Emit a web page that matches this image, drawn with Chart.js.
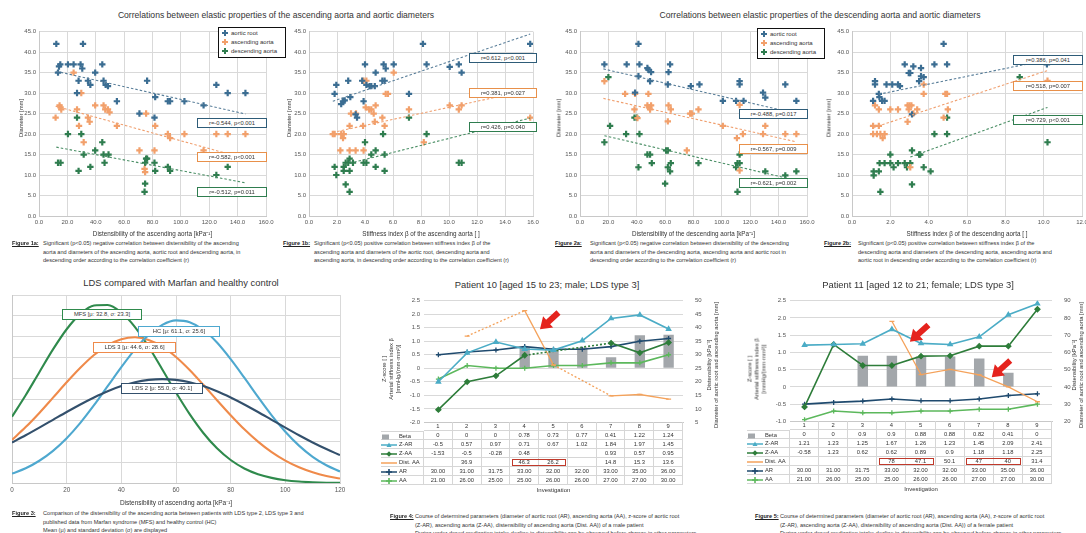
<!DOCTYPE html>
<html>
<head>
<meta charset="utf-8">
<title>Aortic elasticity in LDS</title>
<script src="https://cdn.jsdelivr.net/npm/chart.js@4.4.1/dist/chart.umd.min.js"></script>
<style>
  html, body { margin:0; padding:0; background:#fff; }
  #page { position:relative; width:1086px; height:533px; overflow:hidden; font-family:"Liberation Sans", Arial, sans-serif; color:#262626; }
  #page canvas { position:absolute; }
  .abs { position:absolute; white-space:nowrap; }
  .title { font-size:8.6px; transform:translateX(-50%); color:#333; }
  .btitle { font-size:9.4px; transform:translateX(-50%); color:#333; }
  .vt { position:absolute; transform:translate(-50%,-50%) rotate(-90deg); white-space:nowrap; text-align:center; font-size:5.8px; line-height:7px; color:#333; }
  .cap { position:absolute; font-size:5.6px; line-height:8.6px; white-space:nowrap; color:#333; }
  .capl { position:absolute; font-size:5.6px; line-height:8.6px; font-weight:bold; text-decoration:underline; white-space:nowrap; color:#222; }
  .rbox { position:absolute; background:#fff; font-size:5.8px; line-height:7px; text-align:center; box-sizing:border-box; white-space:nowrap; color:#333; }
  .legend { position:absolute; background:#fff; border:1.5px solid #111; box-sizing:border-box; font-size:6px; padding:1px 0 0 3px; line-height:9px; color:#333; }
  .legend svg { vertical-align:middle; margin-right:3px; }
  .cell { position:absolute; box-sizing:border-box; font-size:5.8px; line-height:8px; text-align:center; white-space:nowrap; color:#333; border-right:1px solid #d6d6d6; border-bottom:1px solid #d6d6d6; }
  .cell.lab { text-align:left; }
  .cell svg { vertical-align:middle; margin-right:2px; }
  .redbox { position:absolute; box-sizing:border-box; border:1.3px solid #c0392b; }
</style>
</head>
<body>
<div id="page"></div>
<script>
// ---------- Correlation scatter data: [x, y] pairs, diameters in mm ----------
// Distensibility of the ascending aorta vs diameters
const ascDistRoot = [[12.2,42],[31,42],[14.1,36.5],[15,37],[20.4,37],[24.4,37],[29.3,37],[30.5,36],[13.4,35],[27.9,33],[34.5,33],[36.2,32],[39.6,35],[44.6,37],[45.5,33],[47,32],[48.6,31.7],[26.8,30],[54.9,28],[70.8,25],[76.2,33],[81.4,24],[81.9,29],[90.8,28],[92.4,28],[102.5,28],[116,27],[125,32],[133,30],[145.5,30]];
const ascDistAsc = [[24.4,35],[14.5,27],[15.2,26.5],[15.7,26],[11.7,24],[26.8,26],[29.8,30],[28.2,22],[34.5,24],[35.7,23],[31.5,18],[39.6,27],[45.5,27],[46.7,26],[48.6,26],[49.7,25.3],[54.9,22],[70.8,16],[75.5,25],[81.4,16],[81.9,22],[74.4,11.5],[74.8,10.7],[90.8,20],[92.4,19],[102.5,20],[116,16],[125,20],[133,20],[145.5,20]];
const ascDistDesc = [[26.8,24],[20.4,20],[29.8,20],[13.4,13],[15.2,13],[31.5,15],[27.9,11],[36.2,12],[39.6,16],[44.6,18],[45.5,15],[49,15],[46.2,13],[74.8,7.9],[74.4,5.9],[76.2,14],[74.8,13],[81.4,13],[81.9,11],[90.8,12],[92.4,11],[125,10],[133,12],[75.5,14]];
const ascDistTrendRoot = [[12.2,35.3],[145.5,24.9]];
const ascDistTrendAsc = [[11.7,26.8],[145.5,14.0]];
const ascDistTrendDesc = [[12.2,16.8],[145.5,8.1]];

// Stiffness index beta of the ascending aorta vs diameters
const ascBetaRoot = [[1.83,29.8],[1.95,32],[2.3,27.3],[2.43,28],[2.55,28.2],[2.8,33],[2.95,29],[3.33,24.8],[3.43,24],[3.9,28],[3.8,33],[4.0,37],[4.1,32],[4.33,31.7],[4.45,31.7],[4.7,31.7],[4.76,35],[5.33,37],[5.48,36],[5.24,33],[5.4,33],[6.05,37],[7.14,29.8],[8.14,42],[8.4,37],[10.05,36.4],[10.7,37],[10.9,35],[15.8,42]];
const ascBetaAsc = [[1.7,20],[1.83,20],[2.3,20],[2.43,19],[2.48,20],[2.24,16],[2.9,16],[3.33,16],[3.9,16],[3.0,25],[3.36,25],[2.9,22],[3.86,22],[4.05,26.5],[4.3,26],[4.45,26],[4.62,25],[4.76,27],[4.7,23],[3.9,33],[4.1,33],[5.24,24],[5.4,22],[5.48,29.8],[5.64,29.8],[6.05,35],[7.14,26],[8.2,18],[10.05,27],[10.7,26],[10.9,27],[15.8,24]];
const ascBetaDesc = [[1.83,12],[1.95,10],[2.48,12],[2.62,13],[2.8,13],[2.9,14],[2.9,11],[2.62,7.7],[2.9,5.9],[2.48,11],[4.0,18],[3.9,13],[4.1,13],[4.45,15],[4.76,16],[4.76,12],[5.4,11],[5.4,15],[5.29,20],[7.14,24],[8.4,20],[10.7,13],[10.9,13],[3.14,13]];
const ascBetaTrendRoot = [[1.7,28],[15.8,44.4]];
const ascBetaTrendAsc = [[1.7,20.4],[15.8,30.8]];
const ascBetaTrendDesc = [[2.6,12.6],[15.8,23.9]];

// Distensibility of the descending aorta vs diameters
const descDistRoot = [[17.2,37],[32.9,37],[41.2,42],[41.9,37],[41.2,34.1],[47.5,36.1],[48.2,35.7],[50.1,35.1],[49.4,32.9],[62.4,35.1],[63.5,37],[61.9,32.1],[78.1,31.7],[84.2,32.1],[100.7,28.1],[110,28.1],[112.5,32.9],[112.5,32.1],[115.3,28.1],[129,30.1],[130.6,28.9],[144.7,32.1],[152.5,28.1],[38.8,30.1]];
const descDistAsc = [[17.2,32.9],[31.8,29.8],[38.8,29.8],[38.4,26],[40.5,23.9],[47.5,27],[48.9,26.5],[50.1,27],[48.2,29.8],[49.4,26],[62.4,27],[64,26],[61.9,23.1],[83.5,26],[77.6,25],[78.8,25],[75.3,16],[100.7,22],[110.6,19],[114.8,20],[112.5,27.1],[130.6,22],[129,20],[144.7,20],[152.5,20],[112.5,11.1]];
const descDistDesc = [[20,33.9],[17.2,18],[21.2,22],[32.5,20],[38.4,24],[40,24],[41.9,20],[41.2,11.9],[47.5,15],[49.4,15],[50.6,12.9],[60,7.9],[60.7,16],[61.9,16],[61.9,11.9],[63.5,10.9],[64,12.9],[83.5,12.9],[110,11.9],[111,12.9],[112.5,12.9],[112.5,15],[111,5.9],[130.6,10.9],[144.7,9.9],[152.5,10.9]];
const descDistTrendRoot = [[16.5,35.9],[152.5,25.0]];
const descDistTrendAsc = [[16.5,28.7],[152.5,18.1]];
const descDistTrendDesc = [[17.2,19.6],[152.5,8.7]];

// Stiffness index beta of the descending aorta vs diameters
const descBetaRoot = [[1.1,28.1],[1.2,32.9],[1.2,32.1],[1.4,29.8],[1.43,29],[1.57,28.1],[1.7,28.1],[1.8,32.1],[2.1,32.1],[2.4,32.1],[2.5,31.7],[2.75,37],[2.96,34.9],[3.04,34.9],[3.2,36.5],[3.5,32.9],[3.6,34.1],[3.6,36.1],[3.74,33.9],[4.3,37],[4.78,42],[4.96,37],[3.13,24.8],[10.17,37]];
const descBetaAsc = [[1.2,27],[1.1,22],[1.4,22],[1.1,20],[1.3,20],[1.48,20],[1.7,20],[1.6,19],[1.4,26],[2.0,26],[2.4,26],[2.9,27],[3.0,27],[3.1,27],[2.96,26],[3.2,25],[3.4,26],[2.9,23],[3.74,32.1],[3.74,29.8],[4.87,29.8],[4.96,29.8],[5.0,26],[4.78,24],[3.04,11.9],[10.2,33]];
const descBetaDesc = [[1.13,10.9],[1.13,9.9],[1.4,10.9],[1.44,12.9],[1.7,12.9],[2.0,12.9],[2.17,11.9],[2.4,12.9],[2.75,12.9],[2.87,11.9],[3.04,12.9],[3.13,16],[3.5,15],[3.56,15],[3.74,11.9],[3.13,7.7],[1.48,5.9],[2.0,15],[4.1,10.9],[4.3,20],[4.96,20],[4.96,24],[8.75,33.9],[10.2,18]];
const descBetaTrendRoot = [[1.4,29.7],[10.2,38.1]];
const descBetaTrendAsc = [[1.13,21.6],[10.2,35.5]];
const descBetaTrendDesc = [[3.04,14.4],[10.2,26.5]];

// ---------- Distensibility distributions (density x1000) ----------
const ldsX = [0,5,10,15,20,25,30,35,40,45,50,55,60,65,70,75,80,85,90,95,100,105,110,115,120];
const mfsCurve  = [6.35,8.40,10.61,12.79,14.72,16.19,17.00,17.04,16.32,14.93,13.04,10.87,8.66,6.59,4.79,3.32,2.20,1.39,0.84,0.49,0.27,0.14,0.07,0.03,0.02];
const hcCurve   = [0.90,1.41,2.13,3.08,4.29,5.76,7.45,9.27,11.09,12.79,14.18,15.14,15.57,15.40,14.67,13.45,11.86,10.08,8.24,6.48,4.91,3.58,2.51,1.70,1.10];
const lds3Curve = [4.13,5.35,6.71,8.17,9.64,11.03,12.25,13.19,13.77,13.95,13.70,13.06,12.07,10.82,9.40,7.93,6.49,5.14,3.96,2.95,2.14,1.50,1.02,0.67,0.43];
const lds2Curve = [3.88,4.57,5.30,6.05,6.80,7.52,8.19,8.79,9.28,9.65,9.87,9.95,9.87,9.65,9.28,8.79,8.19,7.52,6.80,6.05,5.30,4.57,3.88,3.25,2.67];

// ---------- Patient follow-up data ----------
const investigations = ['1','2','3','4','5','6','7','8','9'];
const p10Beta = [0,0,0,0.78,0.73,0.77,0.41,1.22,1.24];
const p10ZAR  = [-0.5,0.57,0.97,0.71,0.67,1.02,1.84,1.97,1.45];
const p10ZAA  = [-1.53,-0.5,-0.28,0.48,null,null,0.93,0.57,0.95];
const p10Dist = [null,36.9,null,46.3,26.2,null,14.8,15.3,13.6];
const p10AR   = [30,31,31.75,33,32,32,33,35,36];
const p10AA   = [21,26,25,25,26,26,27,27,30];

const p11Beta = [0,0,0.9,0.9,0.88,0.88,0.82,0.41,0];
const p11ZAR  = [1.21,1.23,1.25,1.67,1.26,1.23,1.45,2.09,2.41];
const p11ZAA  = [-0.58,1.23,0.62,0.62,0.89,0.9,1.18,1.18,2.25];
const p11Dist = [null,null,null,78,47.1,50.1,47,40,31.4];
const p11AR   = [30,31,31.75,33,32,32,33,35,36];
const p11AA   = [21,26,25,25,26,26,27,27,30];

// arrow tips: [category index, left-axis value]
const p10Arrows = [[3.53,1.44]];
const p11Arrows = [[3.62,1.31],[6.43,0.28]];
// highlighted distensibility cells: [first index, last index]
const p10Marked = [[3,4]];
const p11Marked = [[3,4],[6,7]];

// ---------- styling ----------
const GRID = '#d9d9d9';
const C_ROOT = '#3b6d92', C_ASC = '#f2a06b', C_DESC = '#2f7d4f';
const B_ROOT = '#2e5c78', B_ASC = '#e8904a', B_DESC = '#2f7d4f';
Chart.defaults.font.family = '"Liberation Sans", Arial, sans-serif';
Chart.defaults.color = '#505050';

const page = document.getElementById('page');
const px = n => n + 'px';
function el(cls, html, css) {
  const d = document.createElement('div');
  d.className = cls; d.innerHTML = html;
  Object.assign(d.style, css || {});
  page.appendChild(d); return d;
}
function canvasAt(x, y, w, h) {
  const c = document.createElement('canvas');
  c.width = w; c.height = h;
  Object.assign(c.style, {left:px(x), top:px(y), width:px(w), height:px(h)});
  page.appendChild(c); return c;
}
const pts = a => a.map(p => ({x:p[0], y:p[1]}));

// ---------- scatter panels ----------
function scatterPanel(p) {
  const L = 26, R = 12, T = 5, B = 22;
  const cv = canvasAt(p.x0 - L, p.y0 - T, p.x1 - p.x0 + L + R, p.y1 - p.y0 + T + B);
  const marks = (d, c) => ({type:'scatter', data:pts(d), pointStyle:'cross', pointRadius:3.2, pointBorderWidth:2.2, pointBorderColor:c, pointBackgroundColor:c, borderColor:c, order:2});
  const trend = (d, c) => ({type:'line', data:pts(d), borderColor:c, borderWidth:1.1, borderDash:[2.5,2], pointRadius:0, fill:false, order:1});
  new Chart(cv, {
    type:'scatter',
    data:{datasets:[marks(p.root, C_ROOT), marks(p.asc, C_ASC), marks(p.desc, C_DESC),
                    trend(p.tRoot, '#5a7f9a'), trend(p.tAsc, '#f0a070'), trend(p.tDesc, '#4b8f66')]},
    options:{
      responsive:false, animation:false, devicePixelRatio:1, events:[],
      layout:{padding:{top:T, right:R, left:0, bottom:0}},
      plugins:{legend:{display:false}, tooltip:{enabled:false}},
      scales:{
        x:{type:'linear', min:0, max:p.xMax,
           ticks:{stepSize:p.xStep, autoSkip:false, maxRotation:0, font:{size:6}, color:'#555', padding:3, callback:v => v.toFixed(1)},
           grid:{color:GRID, drawTicks:false}, border:{color:'#c8c8c8'},
           title:{display:true, text:p.xTitle, font:{size:6.3}, color:'#333', padding:{top:2, bottom:0}},
           afterFit:s => { s.height = B; }},
        y:{min:0, max:45,
           ticks:{stepSize:5, font:{size:6}, color:'#555', padding:3, callback:v => v.toFixed(1)},
           grid:{color:GRID, drawTicks:false}, border:{color:'#c8c8c8'},
           afterFit:s => { s.width = L; }}
      }
    }
  });
  el('vt', 'Diameter [mm]', {left:px(p.yTitleX), top:px(p.y0 + 88)});
  p.labels.forEach(b => {
    el('rbox', b.t, {left:px(p.boxX), top:px(b.y), width:px(p.boxW), height:px(10), border:'1.6px solid ' + b.c, paddingTop:'0.5px'});
  });
}

scatterPanel({x0:39, x1:266, y0:30, y1:216, xMax:160, xStep:20, yTitleX:21,
  xTitle:'Distensibility of the ascending aorta [kPa\u207B\u00B9]',
  root:ascDistRoot, asc:ascDistAsc, desc:ascDistDesc, tRoot:ascDistTrendRoot, tAsc:ascDistTrendAsc, tDesc:ascDistTrendDesc,
  boxX:197, boxW:70, labels:[{t:'r=-0.544, p<0.001', y:118, c:B_ROOT},{t:'r=-0.582, p<0.001', y:152, c:B_ASC},{t:'r=-0.512, p=0.011', y:187, c:B_DESC}]});
scatterPanel({x0:309, x1:533, y0:30, y1:216, xMax:16, xStep:2, yTitleX:289,
  xTitle:'Stiffness index \u03B2 of the ascending aorta [ ]',
  root:ascBetaRoot, asc:ascBetaAsc, desc:ascBetaDesc, tRoot:ascBetaTrendRoot, tAsc:ascBetaTrendAsc, tDesc:ascBetaTrendDesc,
  boxX:469, boxW:68, labels:[{t:'r=0.612, p<0.001', y:53, c:B_ROOT},{t:'r=0.381, p=0.027', y:88, c:B_ASC},{t:'r=0.426, p=0.040', y:122, c:B_DESC}]});
scatterPanel({x0:580, x1:807, y0:30, y1:216, xMax:160, xStep:20, yTitleX:559,
  xTitle:'Distensibility of the descending aorta [kPa\u207B\u00B9]',
  root:descDistRoot, asc:descDistAsc, desc:descDistDesc, tRoot:descDistTrendRoot, tAsc:descDistTrendAsc, tDesc:descDistTrendDesc,
  boxX:739, boxW:69, labels:[{t:'r=-0.488, p=0.017', y:109, c:B_ROOT},{t:'r=-0.567, p=0.009', y:144, c:B_ASC},{t:'r=-0.621, p=0.002', y:178, c:B_DESC}]});
scatterPanel({x0:852, x1:1082, y0:30, y1:216, xMax:12, xStep:2, yTitleX:829,
  xTitle:'Stiffness index \u03B2 of the descending aorta [ ]',
  root:descBetaRoot, asc:descBetaAsc, desc:descBetaDesc, tRoot:descBetaTrendRoot, tAsc:descBetaTrendAsc, tDesc:descBetaTrendDesc,
  boxX:1013, boxW:70, labels:[{t:'r=0.386, p=0.041', y:55, c:B_ROOT},{t:'r=0.518, p=0.007', y:81, c:B_ASC},{t:'r=0.729, p<0.001', y:115, c:B_DESC}]});

// legends
const crossSvg = c => '<svg width="6" height="6" viewBox="0 0 6 6"><path d="M3 0V6M0 3H6" stroke="' + c + '" stroke-width="2"/></svg>';
const legendHtml = crossSvg(C_ROOT) + 'aortic root<br>' + crossSvg(C_ASC) + 'ascending aorta<br>' + crossSvg(C_DESC) + 'descending aorta';
el('legend', legendHtml, {left:'218px', top:'27px', width:'68px', height:'31px'});
el('legend', legendHtml, {left:'757px', top:'28px', width:'68px', height:'31px'});

// top titles
el('abs title', 'Correlations between elastic properties of the ascending aorta and aortic diameters', {left:'276px', top:'10px'});
el('abs title', 'Correlations between elastic properties of the descending aorta and aortic diameters', {left:'820px', top:'10px'});

// top captions
function caption(label, lx, tx, y, lines) {
  el('capl', label, {left:px(lx), top:px(y)});
  el('cap', lines.join('<br>'), {left:px(tx), top:px(y)});
}
caption('Figure 1a:', 12, 43, 239, ['Significant (p<0.05) negative correlation between distensibility of the ascending',
  'aorta and diameters of the ascending aorta, aortic root and descending aorta, in',
  'descending order according to the correlation coefficient (r)']);
caption('Figure 1b:', 283, 314, 239, ['Significant (p<0.05) positive correlation between stiffness index \u03B2 of the',
  'ascending aorta and diameters of the aortic root, descending aorta and',
  'ascending aorta, in descending order according to the correlation coefficient (r)']);
caption('Figure 2a:', 555, 590, 239, ['Significant (p<0.05) negative correlation between distensibility of the descending',
  'aorta and diameters of the descending aorta, ascending aorta and aortic root in',
  'descending order according to the correlation coefficient (r)']);
caption('Figure 2b:', 824, 858, 239, ['Significant (p<0.05) positive correlation between stiffness index \u03B2 of the',
  'descending aorta and diameters of the descending aorta, ascending aorta and',
  'aortic root in descending order according to the correlation coefficient (r)']);

// ---------- distensibility distribution panel ----------
(function () {
  const x0 = 12, x1 = 340, y0 = 295, y1 = 483, T = 4, B = 24, R = 12;
  const cv = canvasAt(0, y0 - T, x1 + R, y1 - y0 + T + B);
  const curve = (d, c) => ({data:d.map((v, i) => ({x:ldsX[i], y:v})), borderColor:c, borderWidth:2.1, pointRadius:0, cubicInterpolationMode:'monotone', fill:false});
  new Chart(cv, {
    type:'line',
    data:{datasets:[curve(lds2Curve, '#33506c'), curve(hcCurve, '#4ea8cf'), curve(lds3Curve, '#ef8a4a'), curve(mfsCurve, '#2f8a4c')]},
    options:{
      responsive:false, animation:false, devicePixelRatio:1, events:[],
      layout:{padding:{top:T, right:R, left:x0, bottom:0}},
      plugins:{legend:{display:false}, tooltip:{enabled:false}},
      scales:{
        x:{type:'linear', min:0, max:120,
           ticks:{stepSize:20, font:{size:6.3}, color:'#555', padding:3, maxRotation:0},
           grid:{color:GRID, drawTicks:false}, border:{color:'#c8c8c8'},
           title:{display:true, text:'Distensibility of ascending aorta [kPa\u207B\u00B9]', font:{size:6.5}, color:'#333', padding:{top:2, bottom:0}},
           afterFit:s => { s.height = B; }},
        y:{min:0, max:18, ticks:{display:false, stepSize:2}, grid:{color:GRID, drawTicks:false}, border:{color:'#c8c8c8'},
           afterFit:s => { s.width = 0; }}
      }
    }
  });
  el('abs btitle', 'LDS compared with Marfan and healthy control', {left:'181px', top:'277px'});
  const tags = [
    ['MFS [\u03BC: 32.8, \u03C3: 23.3]', 62, 309, 80, '#2f8a4c'],
    ['HC [\u03BC: 61.1, \u03C3: 25.6]', 138, 326, 82, '#4ea8cf'],
    ['LDS 3 [\u03BC: 44.6, \u03C3: 28.6]', 93, 342, 83, '#ef8a4a'],
    ['LDS 2 [\u03BC: 55.0, \u03C3: 40.1]', 121, 383, 82, '#33506c']
  ];
  tags.forEach(t => el('rbox', t[0], {left:px(t[1]), top:px(t[2]), width:px(t[3]), height:'11px', border:'1.6px solid ' + t[4], paddingTop:'1px'}));
  caption('Figure 3:', 12, 43, 509, ['Comparison of the distensibility of the ascending aorta between patients with LDS type 2, LDS type 3 and',
    'published data from Marfan syndrome (MFS) and healthy control (HC)',
    'Mean (\u03BC) and standard deviation (\u03C3) are displayed']);
})();

// ---------- patient follow-up panels ----------
const redArrows = {
  id:'redArrows',
  afterDatasetsDraw(chart, args, opts) {
    const ctx = chart.ctx, xs = chart.scales.x, ys = chart.scales.y;
    (opts.tips || []).forEach(t => {
      const tx = xs.getPixelForValue(t[0]), ty = ys.getPixelForValue(t[1]);
      const bx = 0.74, by = -0.67, qx = 0.67, qy = 0.74;
      const shape = [[0,0],[11,7.5],[11,3],[25,3],[25,-3],[11,-3],[11,-7.5]];
      ctx.save();
      ctx.fillStyle = '#e5231d';
      ctx.beginPath();
      shape.forEach((s, i) => {
        const X = tx + s[0] * bx + s[1] * qx, Y = ty + s[0] * by + s[1] * qy;
        if (i === 0) ctx.moveTo(X, Y); else ctx.lineTo(X, Y);
      });
      ctx.closePath(); ctx.fill(); ctx.restore();
    });
  }
};
// segments that bridge a missing measurement are drawn dotted
const gapSeg = {borderDash: c => ((c.p0.skip || c.p1.skip) ? [2, 2] : undefined)};
const COL = {beta:'#a3a7ab', zar:'#4bacc6', zaa:'#2e7d3a', dist:'#f4a25b', ar:'#1f4a6e', aa:'#5cb85c'};

function keySvg(kind, c) {
  if (kind === 'bar') return '<svg width="16" height="6"><rect x="1" y="0.5" width="7" height="5" fill="' + c + '"/></svg>';
  let m = '';
  if (kind === 'tri') m = '<path d="M8 0.5L10.5 5H5.5Z" fill="' + c + '"/>';
  if (kind === 'dia') m = '<path d="M8 0.3L10.7 3L8 5.7L5.3 3Z" fill="' + c + '"/>';
  if (kind === 'plus') m = '<path d="M8 0V6M5 3H11" stroke="' + c + '" stroke-width="1.6"/>';
  return '<svg width="16" height="6"><path d="M0 3H16" stroke="' + c + '" stroke-width="1.5"/>' + m + '</svg>';
}

function patientPanel(p) {
  const L = 44, R = p.rightW, T = 4, B = 1;
  const cvx = p.x0 - L, cvy = p.y0 - T;
  const cv = canvasAt(cvx, cvy, p.x1 - p.x0 + L + R, p.y1 - p.y0 + T + B);
  const line = (lab, d, c, st, ax, extra) => Object.assign({type:'line', label:lab, data:d, borderColor:c, backgroundColor:c,
    pointStyle:st, pointRadius:2.5, pointBorderColor:c, pointBackgroundColor:c, pointBorderWidth:1.3, borderWidth:1.6,
    tension:0, yAxisID:ax, spanGaps:true, segment:gapSeg, order:1}, extra || {});
  const chart = new Chart(cv, {
    type:'bar',
    data:{labels:investigations, datasets:[
      {type:'bar', label:'Beta', data:p.beta, backgroundColor:COL.beta, barPercentage:0.36, categoryPercentage:1, yAxisID:'y', order:5},
      line('Z-AR', p.zar, COL.zar, 'triangle', 'y'),
      line('Z-AA', p.zaa, COL.zaa, 'rectRot', 'y'),
      line('Dist. AA', p.dist, COL.dist, 'line', 'y2', {borderWidth:1.3}),
      line('AR', p.ar, COL.ar, 'cross', 'y2'),
      line('AA', p.aa, COL.aa, 'cross', 'y2')
    ]},
    options:{
      responsive:false, animation:false, devicePixelRatio:1, events:[],
      layout:{padding:{top:T, right:0, left:0, bottom:B}},
      plugins:{legend:{display:false}, tooltip:{enabled:false}, redArrows:{tips:p.arrows}},
      scales:{
        x:{type:'category', offset:true, ticks:{display:false}, grid:{display:false}, border:{color:'#c8c8c8'}, afterFit:s => { s.height = 0; }},
        y:{position:'left', min:p.lMin, max:2.5, ticks:{stepSize:0.5, font:{size:6}, color:'#555', padding:4},
           grid:{color:GRID, drawTicks:false}, border:{display:false}, afterFit:s => { s.width = L; }},
        y2:{position:'right', min:p.rMin, max:p.rMax, ticks:{stepSize:p.rStep, font:{size:6}, color:'#555', padding:4},
            grid:{display:false}, border:{display:false}, afterFit:s => { s.width = R; }}
      }
    },
    plugins:[redArrows]
  });

  // data table aligned with the category columns
  const ca = chart.chartArea;
  const x0 = cvx + ca.left, x1 = cvx + ca.right, top = cvy + ca.bottom;
  const colW = (x1 - x0) / 9, rowH = 9, labW = x0 - p.labelX;
  const fmt = v => (v === null ? '' : String(v));
  const rows = [
    ['', '', investigations],
    ['Beta', keySvg('bar', COL.beta), p.beta.map(fmt)],
    ['Z-AR', keySvg('tri', COL.zar), p.zar.map(fmt)],
    ['Z-AA', keySvg('dia', COL.zaa), p.zaa.map(fmt)],
    ['Dist. AA', keySvg('line', COL.dist), p.dist.map(fmt)],
    ['AR', keySvg('plus', COL.ar), p.ar.map(v => v.toFixed(2))],
    ['AA', keySvg('plus', COL.aa), p.aa.map(v => v.toFixed(2))]
  ];
  rows.forEach((r, ri) => {
    const y = top + ri * rowH;
    if (ri > 0) el('cell lab', r[1] + r[0], {left:px(p.labelX), top:px(y), width:px(labW), height:px(rowH), borderTop: ri === 1 ? '1px solid #d6d6d6' : 'none'});
    r[2].forEach((v, ci) => {
      el('cell', v, {left:px(x0 + ci * colW), top:px(y), width:px(colW), height:px(rowH)});
    });
  });
  p.marked.forEach(m => {
    el('redbox', '', {left:px(x0 + m[0] * colW + 1.5), top:px(top + 4 * rowH + 0.5), width:px((m[1] - m[0] + 1) * colW - 3), height:px(rowH - 1.5)});
  });
  el('abs', 'Investigation', {left:px((x0 + x1) / 2), top:px(top + 7 * rowH + 2), fontSize:'6px', transform:'translateX(-50%)', color:'#333'});

  el('abs btitle', p.title, {left:px(p.titleX), top:'279px'});
  el('vt', 'Z-score [ ]<br>Arterial stiffness index \u03B2<br>[mmHg/(mm\u00B7mm\u00B2)]', {left:px(p.lTitleX), top:px(p.y0 + 72)});
  el('vt', 'Distensibility [kPa\u207B\u00B9]<br>Diameter of aortic root and ascending aorta [mm]', {left:px(p.rTitleX), top:px(p.y0 + 68)});
}

patientPanel({x0:424, x1:683, y0:297, y1:429, labelX:381, rightW:38, lMin:-2, rMin:5, rMax:50, rStep:5,
  beta:p10Beta, zar:p10ZAR, zaa:p10ZAA, dist:p10Dist, ar:p10AR, aa:p10AA, arrows:p10Arrows, marked:p10Marked,
  title:'Patient 10 [aged 15 to 23; male; LDS type 3]', titleX:547, lTitleX:391, rTitleX:713});
patientPanel({x0:790, x1:1052, y0:297, y1:428, labelX:747, rightW:34, lMin:-1, rMin:20, rMax:90, rStep:10,
  beta:p11Beta, zar:p11ZAR, zaa:p11ZAA, dist:p11Dist, ar:p11AR, aa:p11AA, arrows:p11Arrows, marked:p11Marked,
  title:'Patient 11 [aged 12 to 21; female; LDS type 3]', titleX:918, lTitleX:757, rTitleX:1078});

caption('Figure 4:', 390, 415, 512, ['Course of determined parameters (diameter of aortic root (AR), ascending aorta (AA), z-score of aortic root',
  '(Z-AR), ascending aorta (Z-AA), distensibility of ascending aorta (Dist. AA)) of a male patient',
  'During under dosed medication intake decline in distensibility can be observed before change in other parameters']);
caption('Figure 5:', 755, 780, 512, ['Course of determined parameters (diameter of aortic root (AR), ascending aorta (AA), z-score of aortic root',
  '(Z-AR), ascending aorta (Z-AA), distensibility of ascending aorta (Dist. AA)) of a female patient',
  'During under dosed medication intake decline in distensibility can be observed before change in other parameters']);
</script>
</body>
</html>
